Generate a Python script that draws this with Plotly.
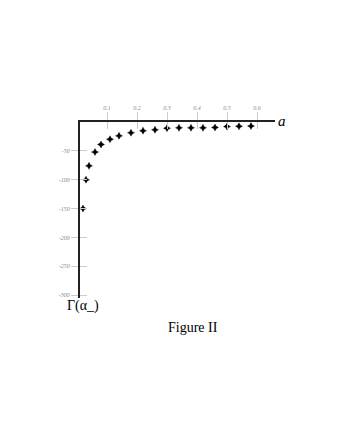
import plotly.graph_objects as go

# data
alpha = [0.02, 0.03, 0.04, 0.06, 0.08, 0.11, 0.14, 0.18, 0.22, 0.26,
         0.30, 0.34, 0.38, 0.42, 0.46, 0.50, 0.54, 0.58]
gamma = [-150, -100, -76, -52, -39, -30, -24, -18.5, -15, -13.5,
         -10.7, -10, -10, -10, -9.5, -8, -7.5, -7]
x_ticks = [0.1, 0.2, 0.3, 0.4, 0.5, 0.6]
x_tick_text = ["0.1", "0.2", "0.3", "0.4", "0.5", "0.6"]
y_ticks = [-50, -100, -150, -200, -250, -300]
y_tick_text = ["-50", "-100", "-150", "-200", "-250", "-300"]

SERIF = "Liberation Serif, Times New Roman, serif"
tickfont = dict(family=SERIF, size=6, color="#888", style="italic")

fig = go.Figure()
fig.add_trace(go.Scatter(
    x=alpha, y=gamma, mode="markers",
    marker=dict(symbol="star-diamond", size=5, color="black",
                line=dict(width=0.4, color="black")),
    hoverinfo="skip", showlegend=False))
# invisible trace to activate second axes for inside ticks
fig.add_trace(go.Scatter(x=[None], y=[None], xaxis="x2", yaxis="y2",
                         showlegend=False, hoverinfo="skip"))

xr = [0.01, 0.66]
yr = [-305, 0]
fig.update_layout(
    width=346, height=448, autosize=False,
    margin=dict(l=72, r=79, t=113.5, b=157.5),
    paper_bgcolor="white", plot_bgcolor="white",
    xaxis=dict(range=xr, side="top", showgrid=False, zeroline=False,
               showline=True, linecolor="#222", linewidth=2, mirror=False,
               tickvals=x_ticks, ticktext=x_tick_text, ticks="outside",
               ticklen=8, tickcolor="#ccc", tickwidth=1, tickfont=tickfont),
    yaxis=dict(range=yr, side="left", showgrid=False, zeroline=False,
               showline=True, linecolor="#222", linewidth=2,
               tickvals=y_ticks, ticktext=y_tick_text, ticks="outside",
               ticklen=7, tickcolor="#ccc", tickwidth=1, tickfont=tickfont),
    xaxis2=dict(range=xr, overlaying="x", side="top", showgrid=False,
                zeroline=False, showline=False, tickvals=x_ticks,
                ticks="inside", ticklen=7, tickcolor="#ccc",
                showticklabels=False),
    yaxis2=dict(range=yr, overlaying="y", side="left", showgrid=False,
                zeroline=False, showline=False, tickvals=y_ticks,
                ticks="inside", ticklen=7, tickcolor="#ccc",
                showticklabels=False),
    annotations=[
        dict(text="a", xref="paper", yref="paper", x=1.037, y=1.003,
             xanchor="center", yanchor="middle", showarrow=False,
             font=dict(family=SERIF, size=15, color="black", style="italic")),
        dict(text="Γ(α_)", xref="paper", yref="paper", x=0.017, y=-0.046,
             xanchor="center", yanchor="middle", showarrow=False,
             font=dict(family=SERIF, size=14, color="black")),
        dict(text="Figure II", xref="paper", yref="paper", x=0.578, y=-0.167,
             xanchor="center", yanchor="middle", showarrow=False,
             font=dict(family=SERIF, size=14, color="black")),
    ],
)
fig.write_html("out.html")
